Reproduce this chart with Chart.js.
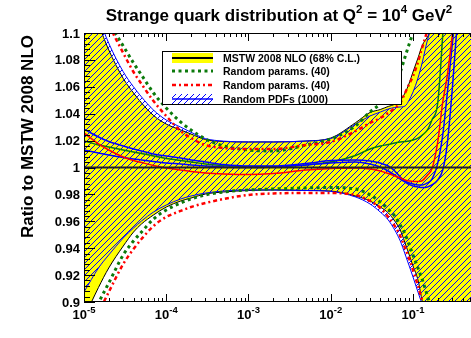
<!DOCTYPE html>
<html>
<head>
<meta charset="utf-8">
<script src="https://cdn.jsdelivr.net/npm/chart.js@4.4.1/dist/chart.umd.min.js"></script>
<style>
  html, body { margin: 0; padding: 0; background: #fff; overflow: hidden; }
  #wrap { width: 480px; height: 338px; }
</style>
</head>
<body>
<div id="wrap"><canvas id="c" width="480" height="338"></canvas></div>
<script>
// x grid shared by all curves
const xGrid = [1e-5, 1.5e-5, 2e-5, 3e-5, 4e-5, 5e-5, 7e-5, 1e-4, 1.5e-4, 2e-4, 3e-4, 5e-4,
  1e-3, 2e-3, 5e-3, 1e-2, 2e-2, 3e-2, 4e-2, 5e-2, 6e-2, 7e-2, 8e-2, 9e-2,
  0.1, 0.115, 0.13, 0.15, 0.17, 0.2, 0.23, 0.26, 0.3, 0.4, 0.5675];

// MSTW 2008 NLO 68% C.L. band
const mstwUp = [1.137, 1.1067, 1.0874, 1.0662, 1.0554, 1.048, 1.0387, 1.0323, 1.0279, 1.0249, 1.0208, 1.0193,
  1.019, 1.019, 1.0197, 1.0219, 1.0333, 1.0409, 1.0431, 1.0454, 1.047, 1.050, 1.0554, 1.0628,
  1.071, 1.0814, 1.091, 1.097, 1.1037, 1.113, 1.125, 1.14, 1.16, 1.22, 1.3];
const mstwLo = [0.8881, 0.9108, 0.9253, 0.9416, 0.952, 0.958, 0.9647, 0.9706, 0.9751, 0.9773, 0.9803, 0.9818,
  0.9829, 0.9833, 0.9829, 0.9825, 0.9788, 0.9751, 0.9706, 0.9662, 0.9602, 0.9535, 0.9439, 0.935,
  0.9268, 0.9164, 0.90, 0.8866, 0.875, 0.855, 0.84, 0.82, 0.80, 0.75, 0.7];

// Random PDFs (1000) band
const pdfUp = [1.142, 1.1117, 1.0924, 1.0712, 1.060, 1.0525, 1.0427, 1.0353, 1.030, 1.0262, 1.0215, 1.0196,
  1.019, 1.019, 1.0197, 1.0215, 1.0323, 1.0383, 1.0412, 1.0435, 1.0446, 1.045, 1.0457, 1.0502,
  1.0561, 1.0665, 1.0784, 1.0948, 1.1052, 1.117, 1.13, 1.145, 1.165, 1.22, 1.3];
const pdfLo = [0.9074, 0.9253, 0.935, 0.9476, 0.955, 0.9602, 0.9669, 0.9721, 0.9766, 0.9788, 0.981, 0.9825,
  0.9833, 0.9833, 0.9829, 0.9822, 0.9781, 0.9729, 0.9669, 0.961, 0.9535, 0.9454, 0.9357, 0.9268,
  0.9186, 0.9074, 0.8978, 0.8866, 0.875, 0.855, 0.84, 0.82, 0.80, 0.75, 0.7];

// Random params (40), green dotted band edges
const grnUp = [1.143, 1.1208, 1.108, 1.0903, 1.0777, 1.0688, 1.0554, 1.0442, 1.0338, 1.0279, 1.0212, 1.016,
  1.013, 1.0123, 1.0167, 1.0212, 1.0309, 1.0413, 1.0472, 1.0532, 1.0621, 1.071, 1.0822, 1.0918,
  1.1, 1.1097, 1.12, 1.135, 1.15, 1.17, 1.19, 1.21, 1.24, 1.3, 1.4];
const grnLo = [0.8755, 0.8993, 0.9141, 0.935, 0.9454, 0.952, 0.9617, 0.9684, 0.9736, 0.9766, 0.9796, 0.9818,
  0.9833, 0.984, 0.9848, 0.9851, 0.984, 0.9796, 0.9743, 0.9691, 0.9639, 0.9572, 0.9506, 0.9424,
  0.9349, 0.9253, 0.9164, 0.9045, 0.893, 0.875, 0.86, 0.84, 0.82, 0.77, 0.7];

// Random params (40), red dash-dot band edges
const redUp = [1.154, 1.1268, 1.1067, 1.0851, 1.071, 1.0621, 1.0494, 1.0383, 1.0271, 1.0219, 1.0167, 1.0145,
  1.0138, 1.0138, 1.0167, 1.019, 1.0271, 1.0331, 1.0368, 1.0405, 1.0442, 1.048, 1.0554, 1.0621,
  1.068, 1.0784, 1.0896, 1.1022, 1.115, 1.135, 1.155, 1.175, 1.2, 1.27, 1.35];
const redLo = [0.868, 0.8918, 0.9074, 0.9283, 0.9394, 0.9468, 0.9565, 0.9632, 0.9677, 0.9706, 0.9736, 0.9766,
  0.9796, 0.9807, 0.981, 0.981, 0.9796, 0.9751, 0.9699, 0.9632, 0.9565, 0.9491, 0.9401, 0.932,
  0.9238, 0.9119, 0.9007, 0.888, 0.875, 0.855, 0.84, 0.82, 0.80, 0.75, 0.7];

// central curves of the random sets
const grnMid = [1.0197, 1.0167, 1.0152, 1.013, 1.0115, 1.0104, 1.0086, 1.0067, 1.0052, 1.0041, 1.0026, 1.0015,
  1.0007, 1.0007, 1.0019, 1.0041, 1.0089, 1.0138, 1.016, 1.0171, 1.0182, 1.019, 1.0193, 1.0197,
  1.0204, 1.0219, 1.0242, 1.0279, 1.0353, 1.048, 1.0985, 1.15, 1.22, 1.35, 1.5];
const redMid = [1.0257, 1.0175, 1.013, 1.0078, 1.0052, 1.0037, 1.0015, 0.9996, 0.9981, 0.997, 0.9959, 0.9952,
  0.9948, 0.9955, 0.9981, 0.9993, 0.9996, 0.9989, 0.9974, 0.9955, 0.9937, 0.9922, 0.9907, 0.99,
  0.9896, 0.9896, 0.9903, 0.9944, 0.999, 1.019, 1.0487, 1.0673, 1.0978, 1.17, 1.3];
const bluMid1 = [1.0286, 1.0227, 1.0193, 1.016, 1.0138, 1.0123, 1.01, 1.0086, 1.0071, 1.0056, 1.0041, 1.0022,
  1.0011, 1.0011, 1.003, 1.0052, 1.0056, 1.0048, 1.0033, 1.0011, 0.9974, 0.9929, 0.99, 0.9885,
  0.9877, 0.987, 0.987, 0.9885, 0.9914, 1.0033, 1.0242, 1.0539, 1.0911, 1.17, 1.3];
const bluMid2 = [1.013, 1.0108, 1.0093, 1.0074, 1.0063, 1.0056, 1.0045, 1.0033, 1.0026, 1.0019, 1.0011, 1.0004,
  1.0, 1.0004, 1.0019, 1.0033, 1.0041, 1.0026, 1.0004, 0.9974, 0.9944, 0.9914, 0.9892, 0.9874,
  0.9862, 0.9855, 0.9851, 0.9855, 0.987, 0.9907, 0.9981, 1.0167, 1.0576, 1.16, 1.3];

// MSTW central value (ratio = 1)
const centralX = [1e-5, 0.5675];
const centralY = [1, 1];

// axes
const xMin = 1e-5, xMax = 0.5675;
const yMin = 0.9, yMax = 1.1;
const xMajor = [1e-5, 1e-4, 1e-3, 1e-2, 1e-1];
const xTickExp = ['-5', '-4', '-3', '-2', '-1'];
const yMajor = [0.9, 0.92, 0.94, 0.96, 0.98, 1.0, 1.02, 1.04, 1.06, 1.08, 1.1];
const yTickLabels = ['0.9', '0.92', '0.94', '0.96', '0.98', '1', '1.02', '1.04', '1.06', '1.08', '1.1'];

const titleParts = [['Strange quark distribution at Q', 0], ['2', 1], [' = 10', 0], ['4', 1], [' GeV', 0], ['2', 1]];
const yTitle = 'Ratio to MSTW 2008 NLO';
const legendLabels = ['MSTW 2008 NLO (68% C.L.)', 'Random params. (40)', 'Random params. (40)', 'Random PDFs (1000)'];

const GREEN = '#0b7a0b';
const RED = '#ff0000';
const BLUE = '#0000ff';
const YELLOW = '#ffff00';
const FONT = '"Liberation Sans", Arial, Helvetica, sans-serif';

// hatch pattern for the Random PDFs band
function makeHatch() {
  const s = 6;
  const pc = document.createElement('canvas');
  pc.width = s; pc.height = s;
  const g = pc.getContext('2d');
  g.strokeStyle = BLUE;
  g.lineWidth = 1;
  g.beginPath();
  g.moveTo(0, s); g.lineTo(s, 0);
  g.moveTo(-1, 1); g.lineTo(1, -1);
  g.moveTo(s - 1, s + 1); g.lineTo(s + 1, s - 1);
  g.stroke();
  return g.createPattern(pc, 'repeat');
}
const hatch = makeHatch();

const pts = ys => xGrid.map((x, i) => ({ x: x, y: ys[i] }));

function line(data, color, width, dash, order, extra) {
  return Object.assign({
    data: data,
    borderColor: color,
    borderWidth: width,
    borderDash: dash || [],
    borderCapStyle: 'butt',
    pointRadius: 0,
    fill: false,
    cubicInterpolationMode: 'monotone',
    order: order
  }, extra || {});
}

// text with superscript pieces
function drawParts(ctx, parts, x, y, size, supSize, align) {
  const widths = parts.map(p => {
    ctx.font = 'bold ' + (p[1] ? supSize : size) + 'px ' + FONT;
    return ctx.measureText(p[0]).width;
  });
  const total = widths.reduce((a, b) => a + b, 0);
  let cx = align === 'center' ? x - total / 2 : x;
  ctx.textAlign = 'left';
  ctx.textBaseline = 'alphabetic';
  parts.forEach((p, i) => {
    ctx.font = 'bold ' + (p[1] ? supSize : size) + 'px ' + FONT;
    ctx.fillText(p[0], cx, p[1] ? y - size * 0.45 : y);
    cx += widths[i];
  });
}

const decor = {
  id: 'decor',
  afterDraw(chart) {
    const { ctx, chartArea: a, scales } = chart;
    const xs = scales.x, ys = scales.y;
    ctx.save();
    ctx.fillStyle = '#000';
    ctx.strokeStyle = '#000';
    ctx.lineWidth = 1;

    // frame
    ctx.strokeRect(a.left + 0.5, a.top + 0.5, a.right - a.left - 1, a.bottom - a.top - 1);

    // x ticks (bottom and top, inside)
    ctx.beginPath();
    for (let d = -5; d <= -1; d++) {
      for (let k = 1; k <= 9; k++) {
        const v = k * Math.pow(10, d);
        if (v > xMax) break;
        const px = Math.round(xs.getPixelForValue(v)) + 0.5;
        const len = k === 1 ? 8 : 4;
        ctx.moveTo(px, a.bottom); ctx.lineTo(px, a.bottom - len);
        ctx.moveTo(px, a.top); ctx.lineTo(px, a.top + len);
      }
    }
    // y ticks (left, inside)
    for (let i = 0; i <= 50; i++) {
      const v = yMin + i * 0.004;
      const py = Math.round(ys.getPixelForValue(v)) + 0.5;
      const len = i % 5 === 0 ? 11 : 6;
      ctx.moveTo(a.left, py); ctx.lineTo(a.left + len, py);
    }
    ctx.stroke();

    // y tick labels
    ctx.font = 'bold 13px ' + FONT;
    ctx.textAlign = 'right';
    ctx.textBaseline = 'middle';
    yMajor.forEach((v, i) => {
      ctx.fillText(yTickLabels[i], a.left - 4, ys.getPixelForValue(v) + 1);
    });

    // x tick labels 10^n
    xMajor.forEach((v, i) => {
      drawParts(ctx, [['10', 0], [xTickExp[i], 1]], xs.getPixelForValue(v), a.bottom + 17, 13, 9.5, 'center');
    });

    // title
    drawParts(ctx, titleParts, 279, 21, 17, 11.5, 'center');

    // y title
    ctx.save();
    ctx.translate(33, a.top + 2);
    ctx.rotate(-Math.PI / 2);
    ctx.font = 'bold 17px ' + FONT;
    ctx.textAlign = 'right';
    ctx.textBaseline = 'alphabetic';
    ctx.fillText(yTitle, 0, 0);
    ctx.restore();

    // legend
    const L = 162, T = 51, R = 402, B = 105;
    ctx.fillStyle = '#fff';
    ctx.fillRect(L, T, R - L, B - T);
    ctx.strokeStyle = '#000';
    ctx.strokeRect(L + 0.5, T + 0.5, R - L - 1, B - T - 1);
    const rows = [58, 71, 85, 99];
    const sx0 = 172, sx1 = 213;
    // row 1: yellow box + black line
    ctx.fillStyle = YELLOW;
    ctx.fillRect(sx0, rows[0] - 5, sx1 - sx0, 10);
    ctx.strokeStyle = '#000';
    ctx.lineWidth = 2;
    ctx.beginPath(); ctx.moveTo(sx0, rows[0]); ctx.lineTo(sx1, rows[0]); ctx.stroke();
    // row 2: green dotted
    ctx.lineCap = 'butt';
    ctx.strokeStyle = GREEN; ctx.lineWidth = 3; ctx.setLineDash([3, 3.5]);
    ctx.beginPath(); ctx.moveTo(sx0, rows[1]); ctx.lineTo(sx1, rows[1]); ctx.stroke();
    // row 3: red dash-dot
    ctx.strokeStyle = RED; ctx.lineWidth = 2.5; ctx.setLineDash([4, 3, 2, 3]);
    ctx.beginPath(); ctx.moveTo(sx0, rows[2]); ctx.lineTo(sx1, rows[2]); ctx.stroke();
    ctx.setLineDash([]);
    // row 4: hatched box + blue line
    ctx.fillStyle = hatch;
    ctx.fillRect(sx0, rows[3] - 5, sx1 - sx0, 10);
    ctx.strokeStyle = BLUE; ctx.lineWidth = 1.5;
    ctx.beginPath(); ctx.moveTo(sx0, rows[3]); ctx.lineTo(sx1, rows[3]); ctx.stroke();
    // labels
    ctx.fillStyle = '#000';
    ctx.font = 'bold 10.5px ' + FONT;
    ctx.textAlign = 'left';
    ctx.textBaseline = 'middle';
    legendLabels.forEach((t, i) => ctx.fillText(t, 223, rows[i] + 1));

    ctx.restore();
  }
};

new Chart(document.getElementById('c'), {
  type: 'line',
  data: {
    datasets: [
      line(pts(mstwUp), '#000', 1, null, 20, { backgroundColor: YELLOW, fill: '+1' }),
      line(pts(mstwLo), '#000', 1, null, 19),
      line(pts(pdfUp), BLUE, 1, null, 18, { backgroundColor: hatch, fill: '+1' }),
      line(pts(pdfLo), BLUE, 1, null, 17),
      line(pts(grnUp), GREEN, 3, [3, 3.5], 12),
      line(pts(grnLo), GREEN, 3, [3, 3.5], 11),
      line(pts(redUp), RED, 2.5, [4, 3, 2, 3], 10),
      line(pts(redLo), RED, 2.5, [4, 3, 2, 3], 9),
      line(pts(grnMid), GREEN, 1.5, null, 6),
      line(pts(bluMid2), BLUE, 1.5, null, 5),
      line(pts(bluMid1), BLUE, 1.5, null, 4),
      line(pts(redMid), RED, 1.5, null, 3),
      line(centralX.map((x, i) => ({ x: x, y: centralY[i] })), '#222', 2, null, 1, { cubicInterpolationMode: 'default', tension: 0 })
    ]
  },
  options: {
    responsive: false,
    animation: false,
    events: [],
    layout: { padding: { left: 84, top: 33, right: 5, bottom: 36 } },
    scales: {
      x: { type: 'logarithmic', min: xMin, max: xMax, display: false },
      y: { type: 'linear', min: yMin, max: yMax, display: false }
    },
    plugins: {
      legend: { display: false },
      tooltip: { enabled: false },
      title: { display: false }
    }
  },
  plugins: [decor]
});
</script>
</body>
</html>
